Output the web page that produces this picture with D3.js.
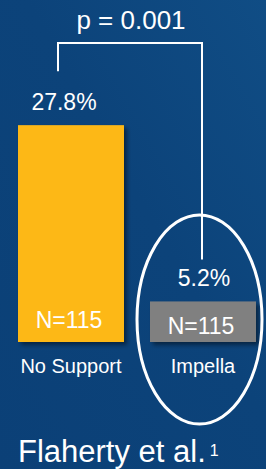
<!DOCTYPE html>
<html>
<head>
<meta charset="utf-8">
<script src="https://cdn.jsdelivr.net/npm/d3@7"></script>
<style>
  html, body { margin: 0; padding: 0; background: #0c427a; }
  svg { display: block; }
</style>
</head>
<body>
<div class="container"></div>
<script>
// data
const categories = ["No Support", "Impella"];
const values = [27.8, 5.2];
const valueLabels = ["27.8%", "5.2%"];
const nLabels = ["N=115", "N=115"];
const pLabel = "p = 0.001";
const citation = "Flaherty et al.";
const citationRef = "1";

let yellow = "#FDB815";
let gray = "#808080";
let white = "#FFFFFF";
const font = "'Liberation Sans', Arial, sans-serif";

const width = 266;
const height = 469;

const svg = d3.select(".container")
  .append("svg")
  .attr("width", width)
  .attr("height", height);

// background gradient
const defs = svg.append("defs");
const grad = defs.append("linearGradient")
  .attr("id", "bg")
  .attr("x1", "0").attr("y1", "1")
  .attr("x2", "1").attr("y2", "0");
grad.append("stop").attr("offset", "0%").attr("stop-color", "#0b4077");
grad.append("stop").attr("offset", "55%").attr("stop-color", "#0c437a");
grad.append("stop").attr("offset", "100%").attr("stop-color", "#104d85");

const shadow = defs.append("filter")
  .attr("id", "shadow")
  .attr("x", "-20%").attr("y", "-20%")
  .attr("width", "150%").attr("height", "150%");
shadow.append("feDropShadow")
  .attr("dx", 3).attr("dy", 3)
  .attr("stdDeviation", 2)
  .attr("flood-color", "#000")
  .attr("flood-opacity", 0.45);

svg.append("rect")
  .attr("width", width)
  .attr("height", height)
  .attr("fill", "url(#bg)");

//scales
const xScale = d3.scaleBand()
  .domain(categories)
  .range([18, 256])
  .paddingInner(0.197)
  .paddingOuter(0);

const yScale = d3.scaleLinear()
  .domain([0, 30])
  .range([342, 108]);

const data = categories.map((c, i) => ({
  cat: c, value: values[i], label: valueLabels[i], n: nLabels[i]
}));

const cx = d => xScale(d.cat) + xScale.bandwidth() / 2;

//draw bars
svg.selectAll(".bar")
  .data(data)
  .enter()
  .append("rect")
  .attr("class", "bar")
  .attr("x", d => xScale(d.cat))
  .attr("y", d => yScale(d.value))
  .attr("width", xScale.bandwidth())
  .attr("height", d => yScale(0) - yScale(d.value))
  .attr("fill", (d, i) => i === 0 ? yellow : gray)
  .attr("filter", "url(#shadow)");

// value labels
svg.selectAll(".value-label")
  .data(data)
  .enter()
  .append("text")
  .attr("x", (d, i) => cx(d) + (i === 0 ? -7 : 1))
  .attr("y", d => yScale(d.value) - 15)
  .attr("text-anchor", "middle")
  .style("font-family", font)
  .style("font-size", "23px")
  .style("fill", white)
  .text(d => d.label);

// N labels inside bars
svg.selectAll(".n-label")
  .data(data)
  .enter()
  .append("text")
  .attr("x", d => cx(d) - 2)
  .attr("y", d => Math.max(yScale(0) - 14, (yScale(d.value) + yScale(0)) / 2 + 12))
  .attr("text-anchor", "middle")
  .style("font-family", font)
  .style("font-size", "23px")
  .style("fill", white)
  .text(d => d.n);

// category labels
svg.selectAll(".cat-label")
  .data(data)
  .enter()
  .append("text")
  .attr("x", d => cx(d))
  .attr("y", yScale(0) + 31)
  .attr("text-anchor", "middle")
  .style("font-family", font)
  .style("font-size", "20px")
  .style("fill", white)
  .text(d => d.cat);

// significance bracket
const leftX = cx(data[0]) - 13;
const rightX = cx(data[1]) - 1;
const topY = 43;
svg.append("path")
  .attr("d", `M${leftX},${yScale(data[0].value) - 54} V${topY} H${rightX} V${yScale(data[1].value) - 42}`)
  .attr("fill", "none")
  .attr("stroke", white)
  .attr("stroke-width", 2);

svg.append("text")
  .attr("x", (leftX + rightX) / 2 + 1)
  .attr("y", 29)
  .attr("text-anchor", "middle")
  .style("font-family", font)
  .style("font-size", "26px")
  .style("fill", white)
  .text(pLabel);

// highlight ellipse
svg.append("ellipse")
  .attr("cx", cx(data[1]) - 3.5)
  .attr("cy", 319.5)
  .attr("rx", 62.5)
  .attr("ry", 104.5)
  .attr("fill", "none")
  .attr("stroke", white)
  .attr("stroke-width", 3);

// citation
const cite = svg.append("text")
  .attr("x", 18)
  .attr("y", 462)
  .style("font-family", font)
  .style("font-size", "31px")
  .style("fill", white)
  .text(citation);
cite.append("tspan")
  .attr("dy", -6)
  .attr("dx", 4)
  .style("font-size", "16px")
  .text(citationRef);
</script>
</body>
</html>
